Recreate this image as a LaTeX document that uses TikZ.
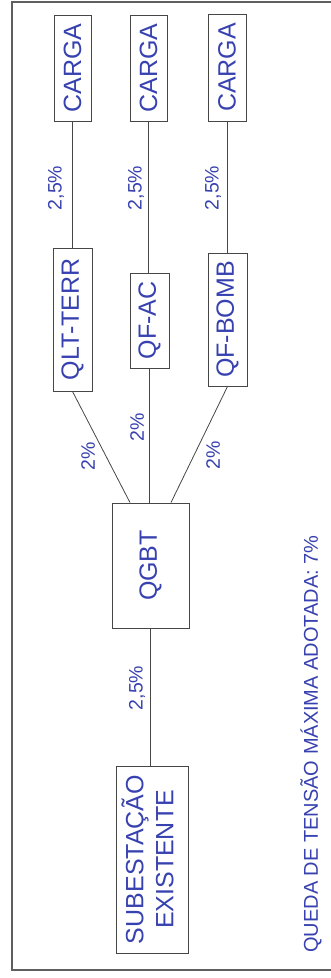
\documentclass[tikz,border=0pt]{standalone}
\usepackage{fontspec}
\setmainfont{Liberation Sans}
\definecolor{txtblue}{RGB}{55,65,175}
\definecolor{linegray}{RGB}{70,70,70}
\definecolor{framegray}{RGB}{95,95,95}
\begin{document}
\begin{tikzpicture}[x=1pt,y=-1pt,
  box/.style={draw=linegray, line width=0.9pt, inner sep=0pt, text=txtblue,
    font=\fontsize{25}{30}\selectfont, align=center},
  pct/.style={rotate=90, inner sep=0pt, text=txtblue, font=\fontsize{19.5}{22}\selectfont},
  wire/.style={draw=linegray, line width=0.8pt}]
\useasboundingbox (0,0) rectangle (331,978);
% frame
\draw[framegray, line width=1.1pt] (331,2) -- (12,2) -- (12,970) -- (331,970);
% boxes
\node[box, minimum width=37pt, minimum height=106pt] (c1) at (72.5,68) {\rotatebox{90}{CARGA}};
\node[box, minimum width=37pt, minimum height=106pt] (c2) at (148.5,68) {\rotatebox{90}{CARGA}};
\node[box, minimum width=38pt, minimum height=107pt] (c3) at (227,67.5) {\rotatebox{90}{CARGA}};
\node[box, minimum width=39pt, minimum height=143pt] (qlt) at (72.5,319.5) {\rotatebox{90}{QLT-TERR}};
\node[box, minimum width=39pt, minimum height=95pt] (qfac) at (149.5,320.5) {\rotatebox{90}{QF-AC}};
\node[box, minimum width=39pt, minimum height=133pt] (qfb) at (227.5,319.5) {\rotatebox{90}{QF-BOMB}};
\node[box, minimum width=77pt, minimum height=125pt] (qgbt) at (150.5,565.5) {\rotatebox{90}{QGBT}};
\node[box, minimum width=72pt, minimum height=187pt] (sub) at (152,859.5)
  {\rotatebox{90}{\begin{tabular}{@{}c@{}}SUBESTAÇÃO\\EXISTENTE\end{tabular}}};
% connectors
\draw[wire] (c1.south) -- (qlt.north);
\draw[wire] (c2.south) -- (c2.south |- qfac.north);
\draw[wire] (c3.south) -- (c3.south |- qfb.north);
\draw[wire] ([xshift=-20.5pt]qgbt.north) -- (qlt.south);
\draw[wire] (qfac.south) -- (qfac.south |- qgbt.north);
\draw[wire] ([xshift=20.5pt]qgbt.north) -- (qfb.south);
\draw[wire] (qgbt.south) -- (qgbt.south |- sub.north);
% labels
\node[pct] (l1) at (56,188) {2,5\%};
\node[pct] (l2) at (136,188) {2,5\%};
\node[pct] (l3) at (213,188) {2,5\%};
\node[pct] (m1) at (88,456) {2\%};
\node[pct] (m2) at (137,427) {2\%};
\node[pct] (m3) at (213,455) {2\%};
\node[pct] (l4) at (137,688) {2,5\%};
\node[rotate=90, inner sep=0pt, text=txtblue, font=\fontsize{20}{22}\selectfont] (note) at (311,744)
  {QUEDA DE TENSÃO MÁXIMA ADOTADA: 7\%};
\end{tikzpicture}
\end{document}
